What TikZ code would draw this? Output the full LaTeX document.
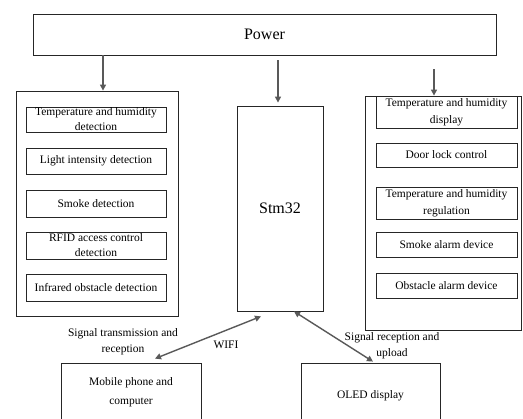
\documentclass[tikz,border=0pt]{standalone}
\usepackage{fontspec}
\setmainfont{Liberation Serif}
\usetikzlibrary{arrows.meta,calc}
\definecolor{arrgray}{HTML}{595959}
\begin{document}
\begin{tikzpicture}[x=1pt,y=-1pt,
  box/.style={draw=black!85, line width=0.8pt, inner sep=0pt, align=center,
    font=\fontsize{11.5}{15}\selectfont},
  boxw/.style={box, font=\fontsize{11.5}{17}\selectfont},
  big/.style={box, font=\fontsize{16}{19}\selectfont},
  lbl/.style={inner sep=0pt, align=center, font=\fontsize{11.5}{16}\selectfont},
  arr/.style={draw=arrgray, line width=1.4pt, -{Triangle[length=6pt,width=6pt]}},
  darr/.style={draw=arrgray, line width=1.4pt, {Triangle[length=6pt,width=6pt]}-{Triangle[length=6pt,width=6pt]}}]
\useasboundingbox (0,0) rectangle (523,419);
% Power
\node[big, minimum width=463, minimum height=41] (power) at (264.5,34.5) {Power};
% left group
\node[box, minimum width=162, minimum height=225] (lo) at (97,203.5) {};
\node[box, minimum width=140, minimum height=25] (l1) at (96,119.5) {Temperature and humidity\\detection};
\node[box, minimum width=140, minimum height=26] (l2) at (96,161) {Light intensity detection};
\node[box, minimum width=140, minimum height=27] (l3) at (96,203.5) {Smoke detection};
\node[box, minimum width=140, minimum height=27] (l4) at (96,245.5) {RFID access control\\detection};
\node[box, minimum width=140, minimum height=27] (l5) at (96,287.5) {Infrared obstacle detection};
% Stm32
\node[big, minimum width=86, minimum height=205] (stm) at (280,208.5) {Stm32};
% right group
\node[box, minimum width=156, minimum height=234] (ro) at (443,213) {};
\node[boxw, minimum width=141, minimum height=32] (r1) at (446.5,112) {Temperature and humidity\\display};
\node[box, minimum width=141, minimum height=24] (r2) at (446.5,155) {Door lock control};
\node[boxw, minimum width=141, minimum height=32] (r3) at (446.5,203) {Temperature and humidity\\regulation};
\node[box, minimum width=141, minimum height=25] (r4) at (446.5,244.5) {Smoke alarm device};
\node[box, minimum width=141, minimum height=25] (r5) at (446.5,285.5) {Obstacle alarm device};
% bottom
\node[box, minimum width=140, minimum height=59, font=\fontsize{11.5}{19}\selectfont] (mob) at (131,392.5) {Mobile phone and\\computer};
\node[box, minimum width=139, minimum height=66] (oled) at (370.5,396) {OLED display};
% power arrows
\draw[arr] ([xshift=6pt]lo.north |- power.south) -- ([xshift=6pt]lo.north);
\draw[arr, shorten <=5pt, shorten >=3pt] ([xshift=-2pt]stm.north |- power.south) -- ([xshift=-2pt]stm.north);
\draw[arr, shorten <=14pt] ([xshift=-9pt]ro.north |- power.south) -- ([xshift=-9pt]ro.north);
% communication arrows
\draw[darr] ($(mob.north)+(24,-4)$) -- ($(stm.south)+(-19,5)$);
\draw[darr] ($(stm.south)+(14,0)$) -- ($(oled.north)+(2.5,-1)$);
% labels
\node[lbl] (t1) at (123,341.5) {Signal transmission and\\reception};
\node[lbl] (t2) at (226,345) {WIFI};
\node[lbl] (t3) at (392,345.5) {Signal reception and\\upload};
\end{tikzpicture}
\end{document}
